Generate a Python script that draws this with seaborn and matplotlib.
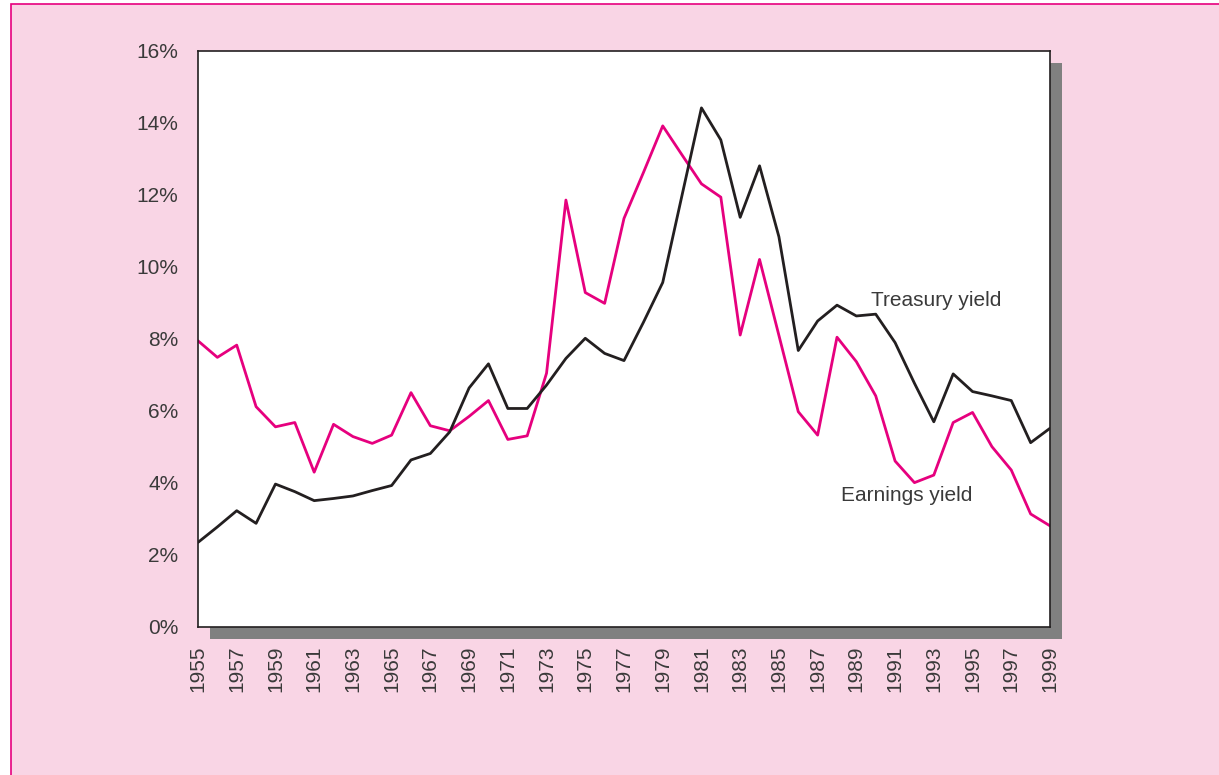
import matplotlib
matplotlib.use("Agg")
import matplotlib.pyplot as plt
from matplotlib.patches import Rectangle
import numpy as np
import pandas as pd
import seaborn as sns

# Annual yields, 1955-1999 (percent)
years = list(range(1955, 2000))
earnings_yield = [
    7.95, 7.49, 7.83, 6.12, 5.56, 5.68, 4.30, 5.63, 5.29, 5.10,
    5.33, 6.51, 5.59, 5.45, 5.85, 6.29, 5.21, 5.31, 7.05, 11.86,
    9.29, 8.99, 11.35, 12.62, 13.92, 13.11, 12.31, 11.94, 8.11, 10.21,
    8.10, 5.98, 5.33, 8.05, 7.37, 6.42, 4.61, 4.01, 4.22, 5.68,
    5.96, 5.01, 4.36, 3.14, 2.81,
]
treasury_yield = [
    2.35, 2.78, 3.23, 2.88, 3.97, 3.76, 3.51, 3.57, 3.64, 3.79,
    3.93, 4.64, 4.82, 5.42, 6.64, 7.31, 6.07, 6.07, 6.72, 7.46,
    8.02, 7.60, 7.40, 8.46, 9.57, 12.00, 14.42, 13.53, 11.38, 12.81,
    10.84, 7.68, 8.50, 8.94, 8.64, 8.69, 7.90, 6.77, 5.70, 7.03,
    6.54, 6.42, 6.29, 5.12, 5.52,
]
y_ticks = [0, 2, 4, 6, 8, 10, 12, 14, 16]
x_labels = list(range(1955, 2000, 2))

W, H = 1219, 775
PINK_BG = "#F9D5E5"
MAGENTA = "#E6007E"
INK = "#231F20"
SHADOW = "#808080"

sns.set_style("white")
plt.rcParams["font.family"] = ["Liberation Sans", "DejaVu Sans"]

df = pd.DataFrame({
    "Year": years * 2,
    "Yield": earnings_yield + treasury_yield,
    "Series": ["Earnings yield"] * len(years) + ["Treasury yield"] * len(years),
})

fig = plt.figure(figsize=(W / 100, H / 100), dpi=100, facecolor="white")

# Framed pink panel behind the chart
fig.add_artist(Rectangle((11 / W, -0.05), 1.1, 1 - 3.7 / H + 0.05,
                         transform=fig.transFigure, facecolor=PINK_BG,
                         edgecolor=MAGENTA, linewidth=1.2, zorder=-3))

# Plot area position in pixels (left, top, right, bottom)
L, T, R, B = 198, 51, 1050, 627
ax = fig.add_axes([L / W, 1 - B / H, (R - L) / W, (B - T) / H])

# Drop shadow offset to the lower right of the plot area
off = 12
fig.add_artist(Rectangle(((L + off) / W, 1 - (B + off) / H), (R - L) / W, (B - T) / H,
                         transform=fig.transFigure, facecolor=SHADOW,
                         edgecolor="none", zorder=-1))

sns.lineplot(data=df, x="Year", y="Yield", hue="Series",
             palette={"Earnings yield": MAGENTA, "Treasury yield": INK},
             linewidth=2.0, legend=False, ax=ax)

ax.set_facecolor("white")
ax.set_xlim(1955, 1999)
ax.set_ylim(0, 16)
ax.set_xlabel("")
ax.set_ylabel("")

ax.set_yticks(y_ticks)
ax.set_yticklabels([f"{v}%" for v in y_ticks])
ax.set_xticks(years, minor=True)
ax.set_xticks(x_labels)
ax.set_xticklabels([str(y) for y in x_labels], rotation=90)

ax.tick_params(axis="both", which="both", direction="inout", color=INK,
               width=1.2, labelcolor="#3a3a3a", labelsize=15)
ax.tick_params(axis="y", length=16, pad=6)
ax.tick_params(axis="x", which="both", length=14, pad=6)

for side in ["left", "right", "top", "bottom"]:
    ax.spines[side].set_visible(True)
    ax.spines[side].set_color(INK)
    ax.spines[side].set_linewidth(1.2)

ax.text(1989.76, 9.06, "Treasury yield", fontsize=15, color="#3a3a3a",
        va="center", ha="left")
ax.text(1988.21, 3.64, "Earnings yield", fontsize=15, color="#3a3a3a",
        va="center", ha="left")

fig.savefig("out.png", dpi=100, facecolor=fig.get_facecolor())
